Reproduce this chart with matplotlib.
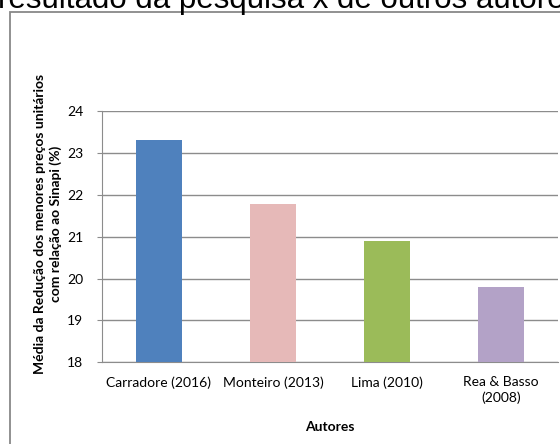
import matplotlib
matplotlib.use("Agg")
import matplotlib.pyplot as plt
from matplotlib.patches import Rectangle

autores = ["Carradore (2016)", "Monteiro (2013)", "Lima (2010)", "Rea & Basso\n(2008)"]
reducao = [23.31, 21.78, 20.90, 19.79]
cores = ["#4F81BD", "#E6B9B8", "#9BBB59", "#B3A2C7"]
y_ticks = [18, 19, 20, 21, 22, 23, 24]

plt.rcParams['font.family'] = ['Lato', 'DejaVu Sans']

W, H = 560, 444
fig = plt.figure(figsize=(W / 100, H / 100), dpi=100)

# cropped title at the very top
fig.text(-0.004, 1 - 8 / H, "resultado da pesquisa x de outros autores",
         family=['Liberation Sans'], fontsize=22.5, ha='left', va='baseline',
         color='black')

# outer chart frame (runs off the right and bottom edges)
fig.patches.append(Rectangle((10 / W, -0.1), 1.2, 1 - 12 / H + 0.1,
                             transform=fig.transFigure, fill=False,
                             edgecolor='#888888', linewidth=1.3))

ax = fig.add_axes([102 / W, 1 - 362.3 / H, (558 - 102) / W, (362.3 - 111.3) / H])
x = range(len(autores))
ax.bar(x, reducao, width=0.4, color=cores, zorder=3)
ax.set_xlim(-0.5, 3.5)
ax.set_ylim(18, 24)
ax.set_yticks(y_ticks)
ax.set_xticks(list(x))
ax.set_xticklabels(autores, fontsize=10, linespacing=1.3)
ax.tick_params(axis='y', labelsize=10, length=3.5, color='#8c8c8c', pad=10)
ax.tick_params(axis='x', length=0, pad=10)
ax.grid(axis='y', color='#8c8c8c', linewidth=1, zorder=0)
for s in ['top', 'right']:
    ax.spines[s].set_visible(False)
ax.spines['left'].set_color('#8c8c8c')
ax.spines['bottom'].set_color('#8c8c8c')

ax.set_xlabel("Autores", fontsize=10, fontweight='bold', labelpad=12)

fig.text(48 / W, 1 - 224 / H,
         "Média da Redução dos menores preços unitários\ncom relação ao Sinapi (%)",
         rotation=90, ha='center', va='center', multialignment='center',
         fontsize=10, fontweight='bold', linespacing=1.25)

fig.savefig("out.png", dpi=100)
